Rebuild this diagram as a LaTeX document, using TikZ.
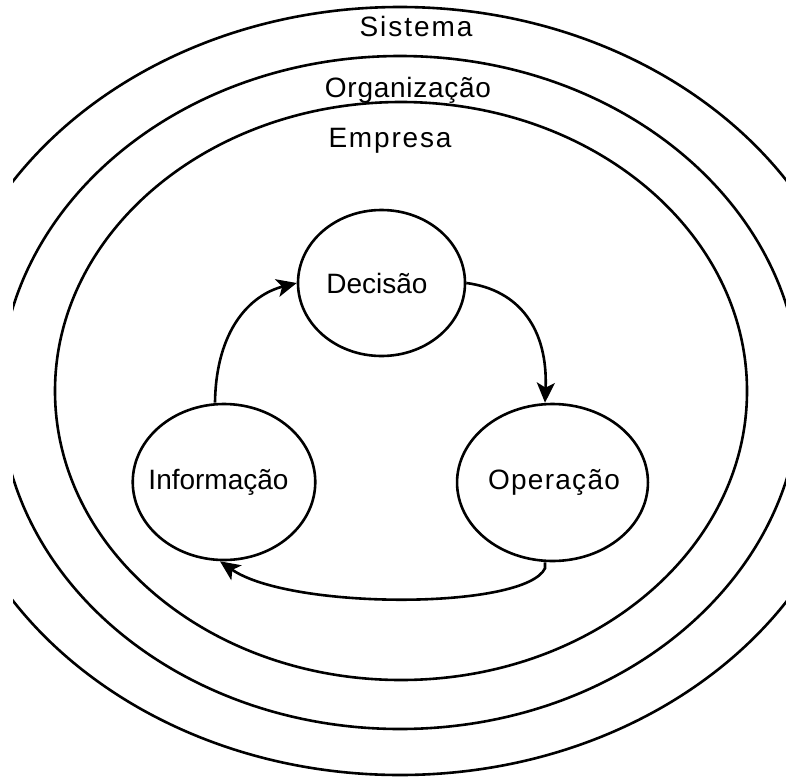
\documentclass[tikz,border=0pt]{standalone}
\usepackage{fontspec}
\setmainfont{Liberation Sans}
\usetikzlibrary{shapes.geometric,arrows.meta}

\tikzset{
  ring/.style={line width=2.6pt},
  ringlabel/.style={anchor=base, inner sep=0pt},
  stage/.style={ellipse, draw, line width=2.6pt, inner sep=0pt, font=\fontsize{28}{32}\selectfont},
  flow/.style={line width=2.6pt, -{Stealth[length=20pt,width=18pt,inset=5pt]}}
}

\begin{document}
\begin{tikzpicture}[x=1pt,y=-1pt]
  \useasboundingbox (0,0) rectangle (786,776);

  % nested environments, cut off at the sides
  \begin{scope}
    \clip (13,-5) rectangle (786,781);
    \draw[ring] (400,391) ellipse [x radius=462, y radius=384];
    \draw[ring] (400,392.5) ellipse [x radius=400, y radius=336.5];
    \draw[ring] (401,391) ellipse [x radius=346, y radius=289];
  \end{scope}

  \node[ringlabel, font=\fontsize{28}{32}\selectfont\addfontfeatures{LetterSpace=7}] (sistema) at (416,37) {Sistema};
  \node[ringlabel, font=\fontsize{28}{32}\selectfont\addfontfeatures{LetterSpace=2.6}] (organizacao) at (408,97) {Organização};
  \node[ringlabel, font=\fontsize{28}{32}\selectfont\addfontfeatures{LetterSpace=6.5}] (empresa) at (390,147) {Empresa};

  % decision cycle
  \node[stage, minimum width=167pt, minimum height=146pt] (decisao) at (381.5,283) {\hspace*{-9pt}Decisão};
  \node[stage, minimum width=178pt, minimum height=156pt] (informacao) at (224,482) {\hspace*{-11pt}Informação};
  \node[stage, minimum width=179pt, minimum height=157pt] (operacao) at (552.5,482.5) {\hspace*{3pt}\addfontfeatures{LetterSpace=4.6}Operação};

  \coordinate (infotop) at ([xshift=-9pt]informacao.north);
  \coordinate (opentop) at ([xshift=-7.5pt]operacao.north);
  \coordinate (opbottom) at ([xshift=-7.5pt]operacao.south);
  \coordinate (infobottom) at ([xshift=-4pt]informacao.south);

  \draw[flow] (infotop) .. controls (216,330) and (250,295) .. (decisao.west);
  \draw[flow] (decisao.east) .. controls (520,290) and (548,330) .. (opentop);
  \draw[flow] (opbottom) -- ++(0,6) .. controls (525,610) and (290,610) .. (infobottom);
\end{tikzpicture}
\end{document}
